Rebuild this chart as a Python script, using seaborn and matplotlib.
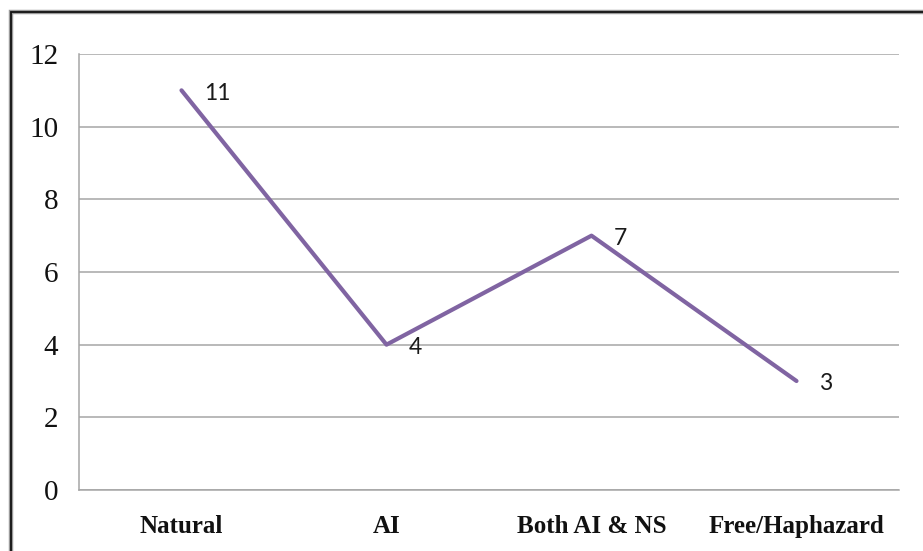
import matplotlib
matplotlib.use("Agg")
import matplotlib.pyplot as plt
from matplotlib.patches import Rectangle
import seaborn as sns
import pandas as pd

categories = ["Natural", "AI", "Both AI & NS", "Free/Haphazard"]
counts = [11, 4, 7, 3]
y_ticks = [0, 2, 4, 6, 8, 10, 12]

df = pd.DataFrame({"category": categories, "count": counts})

sns.set_style("white")
plt.rcParams["font.family"] = ["Liberation Serif", "DejaVu Serif"]

W, H = 923, 551
fig = plt.figure(figsize=(W / 100, H / 100), dpi=100)
ax = fig.add_axes([79 / W, 1 - 490 / H, (899 - 79) / W, (490 - 54) / H])

grid_c = "#a6a6a6"
ax.set_ylim(0, 12)
ax.set_xlim(-0.5, 3.5)
ax.set_yticks(y_ticks)
ax.yaxis.grid(True, color=grid_c, linewidth=1.1)
ax.set_axisbelow(True)

sns.lineplot(data=df, x="category", y="count", ax=ax, color="#8064a2",
             linewidth=3, sort=False)

for i, v in enumerate(counts):
    ax.annotate(str(v), (i, v), xytext=(16, -2), textcoords="offset points",
                ha="left", va="center", fontsize=16.5, family=["Lato", "DejaVu Sans"],
                color="#1a1a1a")

ax.set_xticks(range(len(categories)))
ax.set_xticklabels(categories, fontsize=18, fontweight="bold")
ax.set_xticks([-0.5, 0.5, 1.5, 2.5, 3.5], minor=True)
ax.tick_params(axis="x", which="major", length=0, pad=18)
ax.tick_params(axis="x", which="minor", length=5, width=1.1, color=grid_c)
ax.tick_params(axis="y", length=5, width=1.1, color=grid_c, labelsize=21, pad=10)
for lab in ax.get_yticklabels():
    lab.set_color("#111111")
for lab in ax.get_xticklabels():
    lab.set_color("#111111")

ax.set_xlabel("")
ax.set_ylabel("")
for s in ["top", "right"]:
    ax.spines[s].set_visible(False)
for s in ["left", "bottom"]:
    ax.spines[s].set_color(grid_c)
    ax.spines[s].set_linewidth(1.1)

# frame around the chart
x0 = 10.5 / W
y1 = 1 - 12 / H
fig.patches.append(Rectangle((x0, -0.2), 1.2, y1 + 0.2, transform=fig.transFigure,
                             fill=False, edgecolor="#9a9a9a", linewidth=3.2))
fig.patches.append(Rectangle((x0, -0.2), 1.2, y1 + 0.2, transform=fig.transFigure,
                             fill=False, edgecolor="#111111", linewidth=1.3))

fig.savefig("out.png", dpi=100)
